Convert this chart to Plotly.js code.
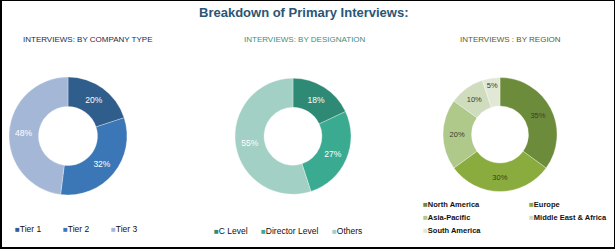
<!DOCTYPE html>
<html>
<head>
<meta charset="utf-8">
<script src="https://cdn.plot.ly/plotly-3.0.1.min.js"></script>
<style>
  html, body { margin: 0; padding: 0; background: #ffffff; }
  #wrap { position: relative; width: 615px; height: 249px; overflow: hidden; }
  #chart { position: absolute; left: 0; top: 0; width: 615px; height: 249px; }
  #frame { position: absolute; left: 0; top: 0; width: 615px; height: 249px; box-sizing: border-box;
           border-left: 2px solid #000; border-top: 1px solid #000; border-right: 1px solid #000; border-bottom: 2px solid #000;
           pointer-events: none; }
</style>
</head>
<body>
<div id="wrap"><div id="chart"></div><div id="frame"></div></div>
<script>
// ---- data ----
const chartTitle = "Breakdown of Primary Interviews:";

const companyTitle = "INTERVIEWS: BY COMPANY TYPE";
const companyLabels = ["Tier 1", "Tier 2", "Tier 3"];
const companyValues = [20, 32, 48];
const companyColors = ["#2f5d8c", "#3b77b6", "#a5b7d6"];

const designationTitle = "INTERVIEWS: BY DESIGNATION";
const designationLabels = ["C Level", "Director Level", "Others"];
const designationValues = [18, 27, 55];
const designationColors = ["#2e8a75", "#3aab91", "#a2d0c5"];

const regionTitle = "INTERVIEWS : BY REGION";
const regionLabels = ["North America", "Europe", "Asia-Pacific", "Middle East & Africa", "South America"];
const regionValues = [35, 30, 20, 10, 5];
const regionColors = ["#6d8c3b", "#8aab3e", "#afc98b", "#cfdcbe", "#e2e8d6"];

// ---- layout helpers (pixel -> paper) ----
const W = 615, H = 249;
const px = x => x / W;
const py = y => 1 - y / H;
const SANS = "Arial, Liberation Sans, sans-serif";

function pieTrace(labels, values, colors, box, textColor, textSize) {
  return {
    type: "pie",
    labels: labels,
    values: values,
    sort: false,
    direction: "clockwise",
    rotation: 0,
    hole: 0.5,
    marker: { colors: colors, line: { color: "rgba(255,255,255,0.6)", width: 0.5 } },
    texttemplate: "%{value}%",
    textposition: "inside",
    insidetextorientation: "horizontal",
    textfont: { color: textColor, size: textSize, family: SANS },
    showlegend: false,
    hoverinfo: "label+percent",
    domain: { x: [px(box[0]), px(box[1])], y: [py(box[3]), py(box[2])] }
  };
}

const traces = [
  pieTrace(companyLabels, companyValues, companyColors, [9, 127, 77, 195], "#ffffff", 8.5),
  pieTrace(designationLabels, designationValues, designationColors, [235, 351, 78, 194.5], "#ffffff", 8.5),
  pieTrace(regionLabels, regionValues, regionColors, [443, 557, 77.5, 191.5], "#3b3b2b", 7.5)
];

const annotations = [];
function addText(text, x, y, size, color, xanchor, bold) {
  annotations.push({
    text: bold ? "<b>" + text + "</b>" : text,
    x: px(x), y: py(y), xref: "paper", yref: "paper",
    xanchor: xanchor || "left", yanchor: "middle",
    showarrow: false,
    font: { size: size, color: color, family: SANS },
    borderpad: 0
  });
}
addText(chartTitle, 304, 12, 13, "#2a5574", "center", true);
addText(companyTitle, 22, 39.5, 8, "#1e2b45", "left");
addText(designationTitle, 243, 39.5, 8, "#3a9080", "left");
addText(regionTitle, 459, 39.5, 8, "#5a5a2c", "left");

function legendItem(label, color, x, y, size, bold) {
  const t = bold ? "<b>" + label + "</b>" : label;
  addText('<span style="color:' + color + ';font-size:8px">■</span>' + t, x, y, size, "#111111", "left");
}
// company legend
const companyLegendX = [14, 62, 110];
companyLabels.forEach((l, i) => legendItem(l, companyColors[i], companyLegendX[i], 229, 8.5));
// designation legend
const designationLegendX = [213, 260, 331];
designationLabels.forEach((l, i) => legendItem(l, designationColors[i], designationLegendX[i], 230.7, 8.5));
// region legend
const regionLegendPos = [[422, 204], [528, 204], [422, 217], [528, 217], [422, 230.7]];
regionLabels.forEach((l, i) => legendItem(l, regionColors[i], regionLegendPos[i][0], regionLegendPos[i][1], 7.5, true));

const layout = {
  width: W, height: H,
  margin: { l: 0, r: 0, t: 0, b: 0 },
  paper_bgcolor: "rgba(0,0,0,0)",
  plot_bgcolor: "rgba(0,0,0,0)",
  showlegend: false,
  annotations: annotations,
  font: { family: SANS }
};

Plotly.newPlot("chart", traces, layout, { displayModeBar: false, staticPlot: true });
</script>
</body>
</html>
